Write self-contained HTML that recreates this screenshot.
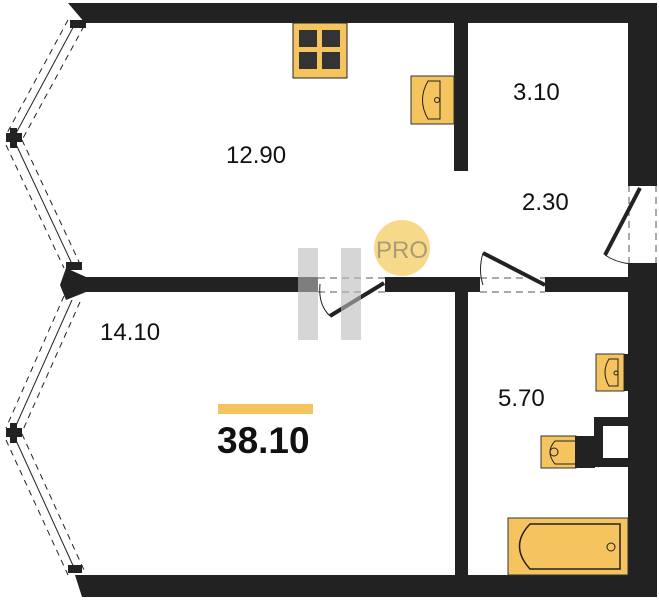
<!DOCTYPE html>
<html><head><style>body{margin:0;background:#fff}svg{display:block}</style></head><body>
<svg width="659" height="600" viewBox="0 0 659 600" xmlns="http://www.w3.org/2000/svg" font-family="Liberation Sans, sans-serif">
<g fill="#222">
<polygon points="68,3 657,3 657,23 85,23"/>
<rect x="628" y="3" width="29" height="179"/>
<rect x="628" y="265" width="29" height="332"/>
<polygon points="75,575 657,575 657,597 82,597"/>
<rect x="454" y="23" width="14" height="148"/>
<rect x="75" y="277" width="243" height="15"/>
<rect x="385" y="277" width="95" height="15"/>
<rect x="545" y="277" width="85" height="15"/>
<rect x="455" y="290" width="13" height="285"/>
<polygon points="66,268 86,277 86,292 66,300 60,285"/>
<rect x="594" y="417" width="34" height="50"/>
</g>
<rect x="603" y="426" width="25" height="32" fill="#fff"/>
<g stroke="#222" fill="none">
<line x1="76" y1="22" x2="14" y2="137"/>
<line x1="14" y1="140" x2="72" y2="264"/>
<line x1="72" y1="300" x2="14" y2="430"/>
<line x1="14" y1="436" x2="76" y2="572"/>
<g stroke-dasharray="6,5">
<line x1="68" y1="20" x2="6" y2="135"/><line x1="84" y1="26" x2="22" y2="140"/>
<line x1="6" y1="145" x2="64" y2="268"/><line x1="22" y1="140" x2="80" y2="264"/>
<line x1="64" y1="296" x2="6" y2="428"/><line x1="80" y1="302" x2="22" y2="432"/>
<line x1="6" y1="440" x2="68" y2="575"/><line x1="22" y1="434" x2="84" y2="570"/>
</g></g>
<g fill="#222"><rect x="6" y="133" width="16" height="9"/><rect x="10" y="128" width="7" height="20"/>
<rect x="6" y="428" width="16" height="9"/><rect x="10" y="423" width="7" height="20"/>
<rect x="70" y="20" width="16" height="8"/><rect x="66" y="262" width="16" height="8"/>
<rect x="68" y="565" width="14" height="8"/></g>
<g stroke="#555" stroke-dasharray="7,5" fill="none">
<line x1="318" y1="278" x2="385" y2="278"/><line x1="318" y1="292" x2="385" y2="292"/>
<line x1="480" y1="278" x2="545" y2="278"/><line x1="480" y1="292" x2="545" y2="292"/>
<line x1="629" y1="185" x2="629" y2="265"/><line x1="656" y1="185" x2="656" y2="265"/>
</g>
<g stroke="#222" stroke-width="4"><line x1="384" y1="283" x2="330" y2="316"/><line x1="545" y1="285" x2="483" y2="253"/><line x1="640" y1="188" x2="605" y2="255"/></g>
<g stroke="#222" fill="none"><path d="M320 284 Q318 305 330 316"/><path d="M483 253 Q478 270 483 285"/><path d="M605 255 Q615 262 630 264"/></g>
<rect x="628" y="180" width="29" height="6" fill="#222"/><rect x="628" y="263" width="29" height="6" fill="#222"/>
<g fill="#bbb" opacity="0.6"><rect x="298" y="248" width="20" height="92"/><rect x="341" y="248" width="20" height="92"/></g>
<circle cx="402" cy="248" r="28" fill="#f7d98a"/>
<text x="402" y="258" font-size="24" fill="#a99a78" text-anchor="middle">PRO</text>
<rect x="293" y="23" width="54" height="55" fill="#f6c45e" stroke="#222"/>
<g fill="#333"><rect x="299" y="30" width="18" height="17"/><rect x="322" y="30" width="18" height="17"/><rect x="299" y="52" width="18" height="17"/><rect x="322" y="52" width="18" height="17"/></g>
<rect x="411" y="76" width="43" height="48" fill="#f6c45e" stroke="#333"/>
<path d="M440 81 L428 81 Q417 100 428 119 L440 119 Z" fill="none" stroke="#222"/><circle cx="437" cy="100" r="2.5" fill="none" stroke="#222"/>
<rect x="596" y="354" width="28" height="37" fill="#f6c45e" stroke="#333"/><rect x="624" y="354" width="4" height="37" fill="#222"/>
<path d="M618 359 L609 359 Q601 372 609 386 L618 386 Z" fill="none" stroke="#222"/><circle cx="616" cy="373" r="2" fill="none" stroke="#222"/>
<rect x="541" y="436" width="35" height="32" fill="#f6c45e" stroke="#333"/><rect x="575" y="436" width="20" height="32" fill="#222"/>
<path d="M575 441 L555 441 Q545 452 555 464 L575 464" fill="none" stroke="#222"/><circle cx="554" cy="452" r="4" fill="none" stroke="#222"/>
<rect x="508" y="518" width="120" height="57" fill="#f6c45e" stroke="#333"/>
<path d="M620 524 L530 524 Q509 546 530 569 L620 569 Z" fill="none" stroke="#222" stroke-width="1.5"/><circle cx="611" cy="547" r="4" fill="none" stroke="#222"/>
<g font-size="24" fill="#111"><text x="226" y="163">12.90</text><text x="513" y="100">3.10</text><text x="522" y="210">2.30</text><text x="100" y="340">14.10</text><text x="498" y="406">5.70</text></g>
<rect x="218" y="404" width="95" height="10" fill="#f6c45e"/>
<text x="217" y="453" font-size="37" font-weight="bold" fill="#111">38.10</text>
</svg>
</body></html>
